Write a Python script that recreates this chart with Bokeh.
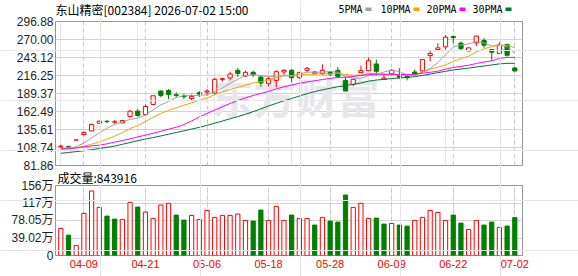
from bokeh.plotting import figure
from bokeh.layouts import column
from bokeh.models import Range1d, FixedTicker, ColumnDataSource, Label, Grid, GridBox
from bokeh.core.properties import value
from bokeh.embed import file_html
from bokeh.resources import INLINE

# ---------------- data ----------------
dates = ["04-03", "04-07", "04-08", "04-09", "04-10", "04-13", "04-14", "04-15", "04-16", "04-17",
         "04-20", "04-21", "04-22", "04-23", "04-24", "04-27", "04-28", "04-29", "04-30", "05-06",
         "05-07", "05-08", "05-11", "05-12", "05-13", "05-14", "05-15", "05-18", "05-19", "05-20",
         "05-21", "05-22", "05-25", "05-26", "05-27", "05-28", "05-29", "06-01", "06-02", "06-03",
         "06-04", "06-05", "06-08", "06-09", "06-10", "06-11", "06-12", "06-15", "06-16", "06-17",
         "06-18", "06-22", "06-23", "06-24", "06-25", "06-26", "06-29", "06-30", "07-01", "07-02"]

opens = [110.0, 110.2, 120.0, 128.0, 133.5, 145.0, 148.0, 146.5, 145.5, 155.0,
         163.0, 158.0, 173.0, 193.0, 194.0, 187.5, 185.5, 182.0, 190.5, 191.5,
         190.0, 210.5, 212.5, 224.0, 215.5, 221.0, 214.0, 204.0, 209.0, 221.5,
         224.0, 213.5, 224.0, 219.5, 219.0, 221.0, 224.0, 209.0, 203.0, 220.5,
         223.5, 233.5, 210.5, 219.0, 216.0, 215.5, 221.5, 223.0, 246.0, 255.0,
         259.0, 274.5, 264.5, 253.0, 265.0, 268.5, 255.0, 249.0, 262.5, 227.5]
highs = [113.0, 111.5, 120.0, 133.0, 144.5, 149.0, 149.5, 150.0, 149.5, 164.5,
         166.0, 173.0, 186.5, 194.0, 196.0, 191.0, 189.0, 188.0, 193.0, 196.0,
         212.5, 213.0, 222.0, 227.5, 223.5, 223.5, 215.5, 214.0, 224.0, 225.5,
         226.0, 222.0, 229.0, 223.0, 233.0, 223.0, 229.0, 213.0, 211.0, 231.0,
         243.0, 240.0, 219.0, 226.0, 227.0, 218.0, 225.5, 240.5, 253.0, 264.5,
         276.5, 276.0, 267.0, 258.0, 275.5, 272.0, 255.5, 266.0, 264.0, 229.0]
lows = [108.0, 108.5, 120.0, 127.0, 133.0, 144.0, 145.0, 144.5, 145.0, 153.5,
        154.5, 157.0, 172.5, 183.5, 181.0, 182.5, 181.0, 179.5, 184.0, 186.0,
        189.0, 207.0, 209.0, 214.0, 214.0, 214.0, 199.5, 200.0, 198.5, 216.0,
        206.0, 211.0, 221.0, 218.0, 217.0, 215.0, 212.0, 193.0, 200.0, 220.0,
        223.0, 216.0, 210.0, 216.0, 212.0, 209.0, 217.5, 220.5, 237.5, 253.0,
        255.0, 264.5, 253.0, 252.5, 260.0, 257.5, 238.0, 248.5, 244.5, 222.5]
closes = [110.8, 109.7, 120.0, 131.0, 143.0, 148.0, 147.5, 147.0, 149.0, 163.0,
          156.5, 170.0, 186.0, 186.5, 188.0, 186.5, 184.5, 185.0, 188.5, 193.0,
          210.5, 211.5, 218.5, 219.2, 221.0, 217.5, 205.0, 211.5, 222.0, 224.0,
          213.0, 220.5, 227.0, 221.5, 224.0, 218.5, 215.0, 193.0, 210.5, 223.5,
          238.3, 222.5, 212.5, 224.0, 213.5, 213.0, 218.0, 240.0, 249.0, 257.5,
          273.5, 273.0, 256.5, 257.5, 275.0, 261.5, 251.0, 262.0, 246.5, 223.0]

ma5 = [106.1, 107.0, 110.0, 115.4, 123.0, 130.4, 137.7, 143.2, 146.8, 150.8,
       152.6, 157.3, 164.9, 172.4, 177.4, 183.4, 186.3, 186.1, 186.5, 187.5,
       192.4, 197.6, 204.4, 210.5, 216.1, 217.4, 216.3, 214.8, 215.4, 216.0,
       215.1, 218.2, 221.3, 221.2, 221.2, 222.3, 221.2, 214.4, 212.2, 212.1,
       216.1, 217.6, 221.5, 224.2, 222.0, 216.9, 216.0, 221.5, 226.5, 235.5,
       247.4, 258.5, 261.8, 263.5, 267.0, 264.8, 260.3, 261.4, 259.2, 248.8]
ma10 = [107.3, 107.5, 108.2, 110.7, 113.7, 117.1, 121.2, 125.6, 131.1, 136.9,
        141.5, 147.5, 154.0, 159.6, 164.1, 168.0, 171.8, 175.5, 179.5, 182.5,
        187.9, 192.0, 195.3, 198.5, 201.8, 204.9, 207.0, 209.6, 213.0, 216.1,
        216.3, 217.3, 218.1, 218.3, 218.6, 218.7, 219.7, 217.9, 216.7, 216.7,
        219.2, 219.4, 217.9, 218.2, 217.0, 216.5, 216.8, 221.5, 225.3, 228.7,
        232.2, 237.3, 241.7, 245.0, 251.3, 256.1, 259.4, 261.6, 261.4, 257.9]
ma20 = [106.8, 107.0, 108.0, 109.7, 111.2, 112.2, 114.2, 116.7, 119.2, 121.6,
        124.6, 127.1, 130.0, 133.0, 136.0, 139.0, 143.0, 148.4, 154.5, 159.7,
        164.7, 169.7, 174.6, 179.0, 182.9, 186.4, 189.4, 192.6, 196.2, 199.3,
        202.1, 204.6, 206.7, 208.4, 210.2, 211.8, 213.3, 213.7, 214.8, 216.4,
        217.7, 218.3, 218.0, 218.2, 217.8, 217.6, 218.2, 219.7, 221.0, 222.7,
        225.7, 228.3, 229.8, 231.6, 234.1, 236.3, 238.1, 241.5, 243.3, 243.3]
ma30 = [100.0, 101.3, 102.6, 103.8, 105.5, 107.2, 108.9, 110.9, 113.5, 116.2,
        118.9, 121.4, 123.6, 126.0, 128.6, 131.1, 133.6, 136.3, 138.8, 141.8,
        145.0, 148.3, 151.6, 154.9, 158.3, 162.3, 166.5, 170.8, 174.6, 178.5,
        181.9, 185.6, 189.1, 192.1, 194.8, 197.2, 199.5, 201.0, 203.0, 205.1,
        207.8, 209.5, 210.4, 211.7, 212.5, 213.4, 214.5, 216.3, 218.3, 220.5,
        222.5, 224.6, 225.9, 227.2, 229.0, 230.4, 232.0, 233.6, 234.4, 234.4]

volume_wan = [60.4, 45.4, 22.4, 93.9, 143.8, 107.3, 87.9, 81.2, 80.5, 118.5,
              108.0, 96.8, 82.7, 112.5, 116.3, 90.1, 78.9, 89.4, 80.5, 100.6,
              85.0, 89.4, 89.4, 92.3, 78.3, 76.7, 101.3, 78.3, 109.6, 78.3,
              90.1, 82.7, 82.7, 67.8, 85.0, 76.7, 74.5, 134.8, 107.3, 116.3,
              82.7, 83.4, 70.0, 71.5, 67.8, 65.5, 78.3, 85.0, 100.6, 96.1,
              78.3, 90.1, 72.2, 58.1, 78.3, 67.8, 74.5, 62.6, 65.5, 84.39]

price_ticks = [81.86, 108.74, 135.61, 162.49, 189.37, 216.25, 243.12, 270.00, 296.88]
price_tick_labels = ["81.86", "108.74", "135.61", "162.49", "189.37", "216.25", "243.12", "270.00", "296.88"]
vol_ticks = [0, 39.02, 78.05, 117.06, 156.08]
vol_tick_labels = ["0", "39.02万", "78.05万", "117万", "156万"]
date_tick_idx = [3, 11, 19, 27, 35, 43, 51, 59]

title_text = "东山精密[002384] 2026-07-02 15:00"
vol_title = "成交量:843916"
ma_names = ["5PMA", "10PMA", "20PMA", "30PMA"]
watermark = "东方财富"

# ---------------- styles / layout constants ----------------
RED = "#ff0000"
GREEN = "#008000"
MA_COLORS = ["#a0a0a0", "#f2a400", "#ff00ff", "#00733a"]
GRID = "#d2d2d2"
VGRID = "#c8c8c8"
OUTLINE = "#959595"
W, H = 578, 276
LEFT, RIGHT = 55, 56
MAIN_H, VOL_H = 175, 101
BODY_W = 0.55
YFONT = "Liberation Sans, Noto Sans CJK SC"
CJK = "Noto Sans CJK SC"

idx = list(range(len(dates)))
x_range = Range1d(-0.69, 60.0)


def style_yaxis(fig):
    ax = fig.yaxis[0]
    ax.axis_line_color = None
    ax.major_tick_line_color = None
    ax.minor_tick_line_color = None
    ax.major_tick_out = 0
    ax.major_tick_in = 0
    ax.minor_tick_out = 0
    ax.major_label_standoff = 2
    ax.major_label_text_font = YFONT
    ax.major_label_text_font_size = "12px"
    ax.major_label_text_color = "#1e1e1e"


def base_fig(height, y_range, top, bottom, x_loc):
    f = figure(width=W, height=height, x_range=x_range, y_range=y_range,
               output_backend="svg", toolbar_location=None, title=None,
               x_axis_location=x_loc, y_axis_location="left",
               min_border_left=LEFT, min_border_right=RIGHT,
               min_border_top=top, min_border_bottom=bottom)
    f.background_fill_color = "white"
    f.border_fill_color = "white"
    f.outline_line_color = OUTLINE
    f.outline_line_width = 1
    f.ygrid.grid_line_color = GRID
    f.add_layout(Grid(dimension=0, ticker=FixedTicker(ticks=date_tick_idx),
                      grid_line_color=VGRID, grid_line_dash="4 3"))
    return f


# ---------------- main (price) figure: frame y 21..165 ----------------
p = base_fig(MAIN_H, Range1d(price_ticks[0], price_ticks[-1]), 21, MAIN_H - 165, None)
p.yaxis.ticker = FixedTicker(ticks=price_ticks)
p.yaxis.major_label_overrides = {t: s for t, s in zip(price_ticks, price_tick_labels)}
style_yaxis(p)

p.add_layout(Label(x=240, y=70, x_units="screen", y_units="screen", text=watermark,
                   text_font=CJK, text_font_size="42px", text_font_style="bold",
                   text_color="#e6e6eb", text_align="center", text_baseline="middle",
                   level="underlay"))

up = [c >= o for o, c in zip(opens, closes)]
for flag, fill, col in [(True, "white", RED), (False, GREEN, GREEN)]:
    sel = [i for i in idx if up[i] == flag]
    src = ColumnDataSource(dict(
        x=sel,
        h=[highs[i] for i in sel],
        l=[lows[i] for i in sel],
        top=[max(opens[i], closes[i]) for i in sel],
        bottom=[min(opens[i], closes[i]) for i in sel],
    ))
    p.segment(x0="x", y0="l", x1="x", y1="h", source=src, line_color=col, line_width=1)
    p.vbar(x="x", width=BODY_W, top="top", bottom="bottom", source=src,
           fill_color=fill, line_color=col, line_width=1)

for series, colr in zip([ma5, ma10, ma20, ma30], MA_COLORS):
    p.line(idx, series, line_color=colr, line_width=1)

# ---------------- volume figure: frame y 185..255 ----------------
v = base_fig(VOL_H, Range1d(vol_ticks[0], vol_ticks[-1]), 185 - MAIN_H, 21, "below")
v.yaxis.ticker = FixedTicker(ticks=vol_ticks)
v.yaxis.major_label_overrides = {t: s for t, s in zip(vol_ticks, vol_tick_labels)}
style_yaxis(v)

xa = v.xaxis[0]
xa.ticker = FixedTicker(ticks=date_tick_idx)
xa.major_label_overrides = {i: dates[i] for i in date_tick_idx}
xa.axis_line_color = None
xa.major_tick_line_color = None
xa.minor_tick_line_color = None
xa.major_tick_out = 0
xa.major_tick_in = 0
xa.minor_tick_out = 0
xa.major_label_standoff = 4
xa.major_label_text_font = "Liberation Sans"
xa.major_label_text_font_size = "11px"
xa.major_label_text_color = RED

vol_up = [up[0]] + [closes[i] >= closes[i - 1] for i in idx[1:]]
for flag, fill, col in [(True, "white", RED), (False, GREEN, GREEN)]:
    sel = [i for i in idx if vol_up[i] == flag]
    src = ColumnDataSource(dict(x=sel, vol=[volume_wan[i] for i in sel]))
    v.vbar(x="x", width=BODY_W, top="vol", bottom=0, source=src,
           fill_color=fill, line_color=col, line_width=1)

# ---------------- transparent overlay (whole canvas) for texts outside the frames ----------------
ov = figure(width=W, height=H, x_range=Range1d(0, W), y_range=Range1d(H, 0),
            output_backend="svg", toolbar_location=None, title=None,
            x_axis_location=None, y_axis_location=None,
            min_border_left=0, min_border_right=0, min_border_top=0, min_border_bottom=0)
ov.background_fill_alpha = 0
ov.border_fill_alpha = 0
ov.outline_line_color = None

ov.text(x=[55], y=[8.5], text=[title_text], text_font=value(CJK), text_font_size="12px",
        text_color="#000000", text_baseline="middle", text_align="left")
ov.text(x=[57], y=[177.3], text=[vol_title], text_font=value(CJK), text_font_size="12px",
        text_color="#000000", text_baseline="middle", text_align="left")

leg_text_x = [338, 380, 426, 472]
leg_box_x = [365, 413, 459, 505]
ov.text(x=leg_text_x, y=[8.8] * 4, text=ma_names, text_font=value("DejaVu Sans Mono"),
        text_font_size="10px", text_color="#000000", text_baseline="middle", text_align="left")
ov.quad(left=leg_box_x, right=[b + 6 for b in leg_box_x], top=[7.0] * 4, bottom=[10.5] * 4,
        fill_color=MA_COLORS, line_color=None)

charts = column(p, v, spacing=0)
layout = GridBox(children=[(charts, 0, 0), (ov, 0, 0)], spacing=0)
open("out.html", "w").write(file_html(layout, INLINE))
